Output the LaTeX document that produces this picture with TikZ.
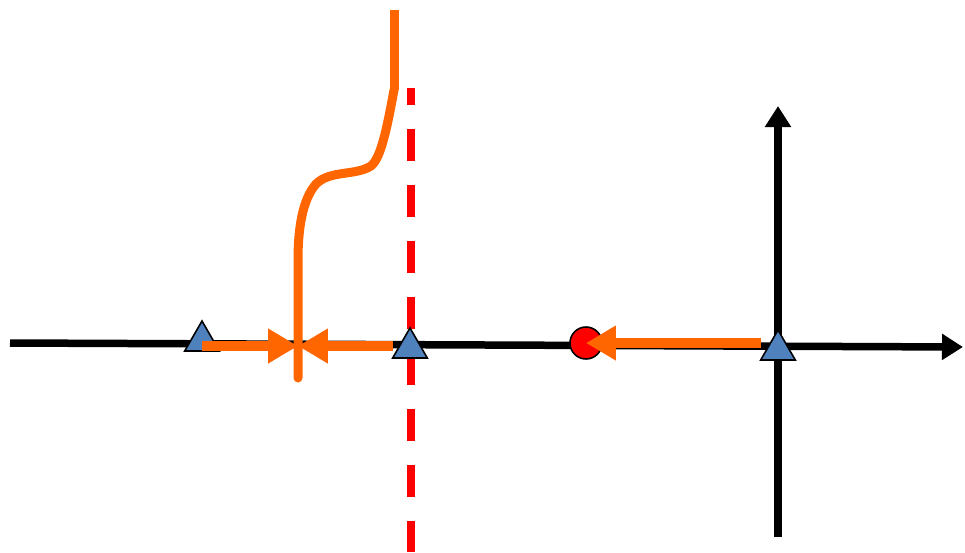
\documentclass[tikz,border=0pt]{standalone}
\usetikzlibrary{arrows.meta,shapes.geometric}
\definecolor{ink}{HTML}{000000}
\definecolor{flame}{HTML}{FF6600}
\definecolor{steel}{HTML}{4F81BD}
\definecolor{alarm}{HTML}{FF0000}

\begin{document}
\begin{tikzpicture}[x=0.02cm,y=-0.02cm,
  axis/.style={ink,line width=0.15cm,-{Triangle[length=0.42cm,width=0.5cm]}},
  pole/.style={regular polygon,regular polygon sides=3,minimum size=0.8cm,
    inner sep=0pt,outer sep=0pt,fill=steel,draw=ink,line width=0.9pt},
  zero/.style={circle,minimum size=0.64cm,inner sep=0pt,fill=alarm,
    draw=ink,line width=0.9pt},
  flow/.style={flame,line width=0.2cm,-{Triangle[length=0.6cm,width=0.66cm]}},
  locus/.style={flame,line width=0.18cm}]
  \useasboundingbox (0,0) rectangle (965,552);

  % axes
  \draw[axis] (10,343) -- (963,347);
  \draw[axis] (778,537) -- (778,106);

  % asymptote
  \draw[alarm,line width=0.16cm,dash pattern=on 0.64cm off 0.48cm,
    dash phase=0.3cm] (411,88) -- (411,552);

  % root locus branch
  \draw[locus] (394,10) -- (394,90);
  \draw[locus,line cap=round,line join=round] (394,90)
    .. controls (387,128) and (381,158) .. (371,166)
    .. controls (355,176) and (330,170) .. (316,184)
    .. controls (302,200) and (298,230) .. (298,260) -- (298,378);

  % poles and zero
  \node[zero] (zero1) at (586,343) {};
  \node[pole] (pole1) at (202,341) {};
  \node[pole] (pole2) at (410,348) {};
  \node[pole] (pole3) at (778,350) {};
  \coordinate (meet) at (298,346);

  \draw[flow] (pole1.center |- meet) -- (meet);
  \draw[flow] (pole2.corner 2 |- meet) -- (meet);
  \draw[flow] (pole3.corner 2 |- zero1) -- (zero1.center);
\end{tikzpicture}
\end{document}
